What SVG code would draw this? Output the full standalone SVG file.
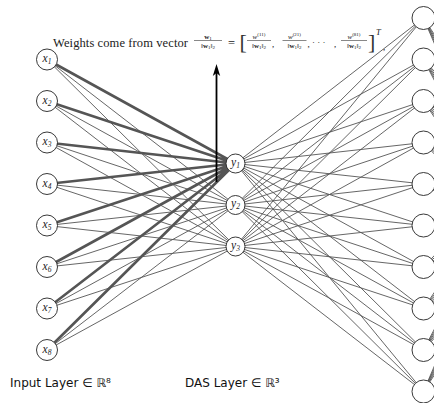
<svg xmlns="http://www.w3.org/2000/svg" width="434" height="403" viewBox="0 0 434 403">
<style>
.e{fill:none;stroke:#555;stroke-width:0.9}
.ek{fill:none;stroke:#555;stroke-width:2.6}
.n circle,circle.n{fill:#fff;stroke:#222;stroke-width:0.9}
.lb{font-family:"Liberation Serif","DejaVu Serif",serif;font-style:italic;font-size:11.5px;fill:#222;text-anchor:middle}
.sb{font-size:7.5px}
.m{font-family:"Liberation Serif","DejaVu Serif",serif;fill:#111}
.f{font-size:7px;text-anchor:middle}
.bar{stroke:#111;stroke-width:0.5}
.br{font-size:22px;fill:#333}
.cap{font-family:"DejaVu Sans","Liberation Sans",sans-serif;font-size:12px;fill:#111}
</style>
<rect width="434" height="403" fill="#fff"/>
<g id="connectors">
<path class="e" d="M423.5,18L520,165M423.5,18L520,185M423.5,18L520,205M423.5,18L520,225M423.5,18L520,245M423.5,59.5L520,165M423.5,59.5L520,185M423.5,59.5L520,205M423.5,59.5L520,225M423.5,59.5L520,245M423.5,101L520,165M423.5,101L520,185M423.5,101L520,205M423.5,101L520,225M423.5,101L520,245M423.5,142.5L520,165M423.5,142.5L520,185M423.5,142.5L520,205M423.5,142.5L520,225M423.5,142.5L520,245M423.5,184L520,165M423.5,184L520,185M423.5,184L520,205M423.5,184L520,225M423.5,184L520,245M423.5,225.5L520,165M423.5,225.5L520,185M423.5,225.5L520,205M423.5,225.5L520,225M423.5,225.5L520,245M423.5,267L520,165M423.5,267L520,185M423.5,267L520,205M423.5,267L520,225M423.5,267L520,245M423.5,308.5L520,165M423.5,308.5L520,185M423.5,308.5L520,205M423.5,308.5L520,225M423.5,308.5L520,245M423.5,350L520,165M423.5,350L520,185M423.5,350L520,205M423.5,350L520,225M423.5,350L520,245M423.5,391.5L520,165M423.5,391.5L520,185M423.5,391.5L520,205M423.5,391.5L520,225M423.5,391.5L520,245"/>
<path class="e" d="M47,59.5L235.5,205M47,101L235.5,205M47,142.5L235.5,205M47,184L235.5,205M47,225.5L235.5,205M47,267L235.5,205M47,308.5L235.5,205M47,350L235.5,205M47,59.5L235.5,246.5M47,101L235.5,246.5M47,142.5L235.5,246.5M47,184L235.5,246.5M47,225.5L235.5,246.5M47,267L235.5,246.5M47,308.5L235.5,246.5M47,350L235.5,246.5"/>
<path class="e" d="M235.5,163.5L423.5,18M235.5,163.5L423.5,59.5M235.5,163.5L423.5,101M235.5,163.5L423.5,142.5M235.5,163.5L423.5,184M235.5,163.5L423.5,225.5M235.5,163.5L423.5,267M235.5,163.5L423.5,308.5M235.5,163.5L423.5,350M235.5,163.5L423.5,391.5M235.5,205L423.5,18M235.5,205L423.5,59.5M235.5,205L423.5,101M235.5,205L423.5,142.5M235.5,205L423.5,184M235.5,205L423.5,225.5M235.5,205L423.5,267M235.5,205L423.5,308.5M235.5,205L423.5,350M235.5,205L423.5,391.5M235.5,246.5L423.5,18M235.5,246.5L423.5,59.5M235.5,246.5L423.5,101M235.5,246.5L423.5,142.5M235.5,246.5L423.5,184M235.5,246.5L423.5,225.5M235.5,246.5L423.5,267M235.5,246.5L423.5,308.5M235.5,246.5L423.5,350M235.5,246.5L423.5,391.5"/>
<path class="ek" d="M47,59.5L235.5,163.5M47,101L235.5,163.5M47,142.5L235.5,163.5M47,184L235.5,163.5M47,225.5L235.5,163.5M47,267L235.5,163.5M47,308.5L235.5,163.5M47,350L235.5,163.5"/>
<line x1="216.5" y1="182" x2="216.5" y2="72" stroke="#000" stroke-width="1.8"/>
<polygon points="216.5,64 212.8,76 216.5,73 220.2,76" fill="#000"/>
</g>
<g id="x1" class="n"><circle cx="47" cy="59.5" r="10.5"/><text class="lb" x="47" y="62">x<tspan class="sb" dy="2">1</tspan></text></g>
<g id="x2" class="n"><circle cx="47" cy="101" r="10.5"/><text class="lb" x="47" y="103.5">x<tspan class="sb" dy="2">2</tspan></text></g>
<g id="x3" class="n"><circle cx="47" cy="142.5" r="10.5"/><text class="lb" x="47" y="145">x<tspan class="sb" dy="2">3</tspan></text></g>
<g id="x4" class="n"><circle cx="47" cy="184" r="10.5"/><text class="lb" x="47" y="186.5">x<tspan class="sb" dy="2">4</tspan></text></g>
<g id="x5" class="n"><circle cx="47" cy="225.5" r="10.5"/><text class="lb" x="47" y="228">x<tspan class="sb" dy="2">5</tspan></text></g>
<g id="x6" class="n"><circle cx="47" cy="267" r="10.5"/><text class="lb" x="47" y="269.5">x<tspan class="sb" dy="2">6</tspan></text></g>
<g id="x7" class="n"><circle cx="47" cy="308.5" r="10.5"/><text class="lb" x="47" y="311">x<tspan class="sb" dy="2">7</tspan></text></g>
<g id="x8" class="n"><circle cx="47" cy="350" r="10.5"/><text class="lb" x="47" y="352.5">x<tspan class="sb" dy="2">8</tspan></text></g>
<g id="y1" class="n"><circle cx="235.5" cy="163.5" r="9.5"/><text class="lb" x="235.5" y="165.5">y<tspan class="sb" dy="2">1</tspan></text></g>
<g id="y2" class="n"><circle cx="235.5" cy="205" r="9.5"/><text class="lb" x="235.5" y="207">y<tspan class="sb" dy="2">2</tspan></text></g>
<g id="y3" class="n"><circle cx="235.5" cy="246.5" r="9.5"/><text class="lb" x="235.5" y="248.5">y<tspan class="sb" dy="2">3</tspan></text></g>
<g id="h1" class="n"><circle cx="423.5" cy="18" r="11.5"/></g>
<g id="h2" class="n"><circle cx="423.5" cy="59.5" r="11.5"/></g>
<g id="h3" class="n"><circle cx="423.5" cy="101" r="11.5"/></g>
<g id="h4" class="n"><circle cx="423.5" cy="142.5" r="11.5"/></g>
<g id="h5" class="n"><circle cx="423.5" cy="184" r="11.5"/></g>
<g id="h6" class="n"><circle cx="423.5" cy="225.5" r="11.5"/></g>
<g id="h7" class="n"><circle cx="423.5" cy="267" r="11.5"/></g>
<g id="h8" class="n"><circle cx="423.5" cy="308.5" r="11.5"/></g>
<g id="h9" class="n"><circle cx="423.5" cy="350" r="11.5"/></g>
<g id="h10" class="n"><circle cx="423.5" cy="391.5" r="11.5"/></g>
<g id="caption" class="m">
<text x="53" y="46.5" font-size="12.5" fill="#222" textLength="135" lengthAdjust="spacing">Weights come from vector</text>
<text class="f" x="208" y="38.5"><tspan font-weight="bold">w</tspan><tspan font-size="5" dy="1">1</tspan></text>
<line class="bar" x1="194" y1="40.5" x2="222" y2="40.5"/>
<text class="f" x="208" y="47.5">‖<tspan font-weight="bold">w</tspan><tspan font-size="5" dy="1">1</tspan><tspan dy="-1">‖</tspan><tspan font-size="5" dy="1">2</tspan></text>
<text x="228" y="46.5" font-size="12.5" fill="#222">=</text>
<text class="br" x="239.5" y="49">[</text>
<text class="f" x="259" y="38.5"><tspan font-style="italic">w</tspan><tspan font-size="5" dy="-2.5">(11)</tspan></text>
<line class="bar" x1="247" y1="40.5" x2="271" y2="40.5"/>
<text class="f" x="259" y="47.5">‖<tspan font-weight="bold">w</tspan><tspan font-size="5" dy="1">1</tspan><tspan dy="-1">‖</tspan><tspan font-size="5" dy="1">2</tspan></text>
<text x="272" y="47" font-size="9">,</text>
<text class="f" x="294.5" y="38.5"><tspan font-style="italic">w</tspan><tspan font-size="5" dy="-2.5">(21)</tspan></text>
<line class="bar" x1="282.5" y1="40.5" x2="306.5" y2="40.5"/>
<text class="f" x="294.5" y="47.5">‖<tspan font-weight="bold">w</tspan><tspan font-size="5" dy="1">1</tspan><tspan dy="-1">‖</tspan><tspan font-size="5" dy="1">2</tspan></text>
<text x="307.5" y="47" font-size="9">,</text>
<text x="312" y="44.5" font-size="9">· · ·</text>
<text x="334" y="47" font-size="9">,</text>
<text class="f" x="354" y="38.5"><tspan font-style="italic">w</tspan><tspan font-size="5" dy="-2.5">(81)</tspan></text>
<line class="bar" x1="341" y1="40.5" x2="367" y2="40.5"/>
<text class="f" x="354" y="47.5">‖<tspan font-weight="bold">w</tspan><tspan font-size="5" dy="1">1</tspan><tspan dy="-1">‖</tspan><tspan font-size="5" dy="1">2</tspan></text>
<text class="br" x="368" y="49">]</text>
<text x="376" y="35" font-size="8.5" font-style="italic">T</text>
<text x="383" y="50" font-size="9">,</text>
</g>
<text class="cap" x="10" y="387">Input Layer ∈ ℝ⁸</text>
<text class="cap" x="185" y="387">DAS Layer ∈ ℝ³</text>
</svg>
